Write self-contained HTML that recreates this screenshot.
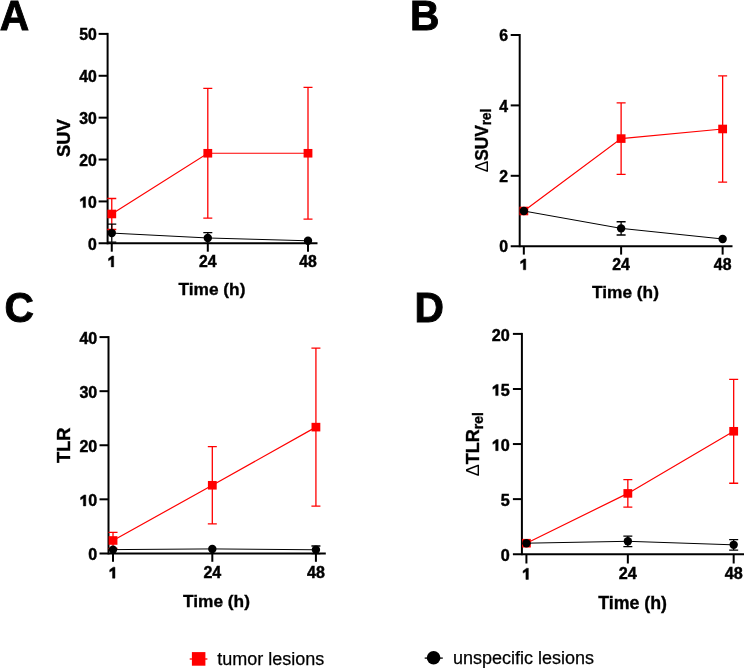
<!DOCTYPE html>
<html><head><meta charset="utf-8"><style>
html,body{margin:0;padding:0;background:#fff;width:744px;height:668px;overflow:hidden}
svg{display:block;will-change:transform}
text{font-family:"Liberation Sans",sans-serif}
.let{font-size:42px;font-weight:bold;stroke:#000;stroke-width:0.9px}
.tk{font-size:16px;font-weight:bold;stroke:#000;stroke-width:0.45px}
.ttl{font-size:17.3px;font-weight:bold;stroke:#000;stroke-width:0.35px}
.yt{font-size:18px;font-weight:bold;stroke:#000;stroke-width:0.35px}
.dl{stroke-width:0}
.dl{font-weight:normal}
.sub{font-size:13px}
.lg{font-size:18px;stroke:#000;stroke-width:0.25px}
.ax{stroke:#000;stroke-width:2;fill:none}
</style></head><body>
<svg width="744" height="668" viewBox="0 0 744 668">
<text transform="translate(-0.2,29.7) scale(0.97,1.02)" class="let">A</text>
<path d="M107.60 32.90V244.30" class="ax"/>
<path d="M98.60 243.30H317.50" class="ax"/>
<text x="96.80" y="249.50" class="tk" style="font-size:15.8px" text-anchor="end">0</text>
<path d="M98.60 201.42H107.60" class="ax"/>
<path d="M85.55 196.76 L85.55 207.62 L83.13 207.62 L83.13 200.02 L80.36 201.50 L80.36 199.32 L83.82 196.76Z" fill="#000" stroke="#000" stroke-width="0.45" stroke-linejoin="round"/>
<text x="96.80" y="207.62" class="tk" style="font-size:15.8px" text-anchor="end">0</text>
<path d="M98.60 159.54H107.60" class="ax"/>
<text x="96.80" y="165.74" class="tk" style="font-size:15.8px" text-anchor="end">20</text>
<path d="M98.60 117.66H107.60" class="ax"/>
<text x="96.80" y="123.86" class="tk" style="font-size:15.8px" text-anchor="end">30</text>
<path d="M98.60 75.78H107.60" class="ax"/>
<text x="96.80" y="81.98" class="tk" style="font-size:15.8px" text-anchor="end">40</text>
<path d="M98.60 33.90H107.60" class="ax"/>
<text x="96.80" y="40.10" class="tk" style="font-size:15.8px" text-anchor="end">50</text>
<path d="M111.77 243.30V251.70" class="ax"/>
<path d="M113.70 256.04 L113.70 266.90 L111.28 266.90 L111.28 259.30 L108.52 260.78 L108.52 258.61 L111.97 256.04Z" fill="#000" stroke="#000" stroke-width="0.45" stroke-linejoin="round"/>
<path d="M207.80 243.30V251.70" class="ax"/>
<text x="207.80" y="266.90" class="tk" style="font-size:15.8px" text-anchor="middle">24</text>
<path d="M308.00 243.30V251.70" class="ax"/>
<text x="308.00" y="266.90" class="tk" style="font-size:15.8px" text-anchor="middle">48</text>
<text x="212.0" y="294.9" class="ttl" style="font-size:17.3px" text-anchor="middle">Time (h)</text>
<text transform="translate(70.4,138.2) rotate(-90) scale(1,1)" class="yt" style="font-size:18.4px" text-anchor="middle">SUV</text>
<polyline points="111.77,213.98 207.80,153.26 308.00,153.26" fill="none" stroke="#ff0000" stroke-width="1.2"/>
<path d="M111.77 198.49V229.48M107.27 198.49H116.27M107.27 229.48H116.27" stroke="#ff0000" stroke-width="1.3" fill="none"/>
<path d="M207.80 88.34V218.17M203.30 88.34H212.30M203.30 218.17H212.30" stroke="#ff0000" stroke-width="1.3" fill="none"/>
<path d="M308.00 87.30V219.22M303.50 87.30H312.50M303.50 219.22H312.50" stroke="#ff0000" stroke-width="1.3" fill="none"/>
<rect x="107.37" y="209.68" width="8.8" height="8.6" fill="#ff0000"/>
<rect x="203.40" y="148.96" width="8.8" height="8.6" fill="#ff0000"/>
<rect x="303.60" y="148.96" width="8.8" height="8.6" fill="#ff0000"/>
<polyline points="111.77,233.08 207.80,237.98 308.00,240.79" fill="none" stroke="#000000" stroke-width="1.0"/>
<path d="M111.77 224.12V242.04M107.27 224.12H116.27M107.27 242.04H116.27" stroke="#000000" stroke-width="1.3" fill="none"/>
<path d="M207.80 232.62V243.34M203.30 232.62H212.30M203.30 243.34H212.30" stroke="#000000" stroke-width="1.3" fill="none"/>
<circle cx="111.77" cy="233.08" r="4.2" fill="#000000"/>
<circle cx="207.80" cy="237.98" r="4.2" fill="#000000"/>
<circle cx="308.00" cy="240.79" r="4.2" fill="#000000"/>
<text transform="translate(409.9,30.2) scale(0.97,1.02)" class="let">B</text>
<path d="M519.70 34.00V247.20" class="ax"/>
<path d="M510.70 246.20H732.50" class="ax"/>
<text x="508.10" y="252.40" class="tk" style="font-size:15.8px" text-anchor="end">0</text>
<path d="M510.70 175.80H519.70" class="ax"/>
<text x="508.10" y="182.00" class="tk" style="font-size:15.8px" text-anchor="end">2</text>
<path d="M510.70 105.40H519.70" class="ax"/>
<text x="508.10" y="111.60" class="tk" style="font-size:15.8px" text-anchor="end">4</text>
<path d="M510.70 35.00H519.70" class="ax"/>
<text x="508.10" y="41.20" class="tk" style="font-size:15.8px" text-anchor="end">6</text>
<path d="M523.83 246.20V254.60" class="ax"/>
<path d="M525.76 258.94 L525.76 269.80 L523.34 269.80 L523.34 262.20 L520.57 263.68 L520.57 261.50 L524.03 258.94Z" fill="#000" stroke="#000" stroke-width="0.45" stroke-linejoin="round"/>
<path d="M621.12 246.20V254.60" class="ax"/>
<text x="621.12" y="269.80" class="tk" style="font-size:15.8px" text-anchor="middle">24</text>
<path d="M722.64 246.20V254.60" class="ax"/>
<text x="722.64" y="269.80" class="tk" style="font-size:15.8px" text-anchor="middle">48</text>
<text x="625.5" y="298.2" class="ttl" style="font-size:17.3px" text-anchor="middle">Time (h)</text>
<text transform="translate(487.6,140.5) rotate(-90) scale(0.962,1)" class="yt" style="font-size:18px" text-anchor="middle"><tspan class="dl">Δ</tspan>SUV<tspan class="sub" style="font-size:14px" dy="3">rel</tspan></text>
<polyline points="523.83,211.00 621.12,138.59 722.64,128.98" fill="none" stroke="#ff0000" stroke-width="1.2"/>
<path d="M621.12 102.87V174.32M616.62 102.87H625.62M616.62 174.32H625.62" stroke="#ff0000" stroke-width="1.3" fill="none"/>
<path d="M722.64 75.83V182.14M718.14 75.83H727.14M718.14 182.14H727.14" stroke="#ff0000" stroke-width="1.3" fill="none"/>
<rect x="519.43" y="206.70" width="8.8" height="8.6" fill="#ff0000"/>
<rect x="616.72" y="134.29" width="8.8" height="8.6" fill="#ff0000"/>
<rect x="718.24" y="124.68" width="8.8" height="8.6" fill="#ff0000"/>
<polyline points="523.83,211.00 621.12,228.39 722.64,238.98" fill="none" stroke="#000000" stroke-width="1.0"/>
<path d="M621.12 221.77V235.01M616.62 221.77H625.62M616.62 235.01H625.62" stroke="#000000" stroke-width="1.3" fill="none"/>
<circle cx="523.83" cy="211.00" r="4.2" fill="#000000"/>
<circle cx="621.12" cy="228.39" r="4.2" fill="#000000"/>
<circle cx="722.64" cy="238.98" r="4.2" fill="#000000"/>
<text transform="translate(4.5,322.0) scale(0.97,1.02)" class="let">C</text>
<path d="M108.50 336.10V554.40" class="ax"/>
<path d="M99.50 553.40H325.80" class="ax"/>
<text x="97.20" y="560.00" class="tk" style="font-size:16.0px" text-anchor="end">0</text>
<path d="M99.50 499.32H108.50" class="ax"/>
<path d="M85.81 494.93 L85.81 505.93 L83.36 505.93 L83.36 498.23 L80.56 499.73 L80.56 497.53 L84.06 494.93Z" fill="#000" stroke="#000" stroke-width="0.45" stroke-linejoin="round"/>
<text x="97.20" y="505.93" class="tk" style="font-size:16.0px" text-anchor="end">0</text>
<path d="M99.50 445.25H108.50" class="ax"/>
<text x="97.20" y="451.85" class="tk" style="font-size:16.0px" text-anchor="end">20</text>
<path d="M99.50 391.18H108.50" class="ax"/>
<text x="97.20" y="397.78" class="tk" style="font-size:16.0px" text-anchor="end">30</text>
<path d="M99.50 337.10H108.50" class="ax"/>
<text x="97.20" y="343.70" class="tk" style="font-size:16.0px" text-anchor="end">40</text>
<path d="M113.02 553.40V561.80" class="ax"/>
<path d="M114.97 567.20 L114.97 578.20 L112.52 578.20 L112.52 570.50 L109.72 572.00 L109.72 569.80 L113.22 567.20Z" fill="#000" stroke="#000" stroke-width="0.45" stroke-linejoin="round"/>
<path d="M212.31 553.40V561.80" class="ax"/>
<text x="212.31" y="578.20" class="tk" style="font-size:16.0px" text-anchor="middle">24</text>
<path d="M315.92 553.40V561.80" class="ax"/>
<text x="315.92" y="578.20" class="tk" style="font-size:16.0px" text-anchor="middle">48</text>
<text x="216.5" y="607.2" class="ttl" style="font-size:17.3px" text-anchor="middle">Time (h)</text>
<text transform="translate(70.0,445.2) rotate(-90) scale(1,1)" class="yt" style="font-size:18.3px" text-anchor="middle">TLR</text>
<polyline points="113.02,540.48 212.31,485.27 315.92,427.13" fill="none" stroke="#ff0000" stroke-width="1.2"/>
<path d="M113.02 532.47V548.48M108.52 532.47H117.52M108.52 548.48H117.52" stroke="#ff0000" stroke-width="1.3" fill="none"/>
<path d="M212.31 446.60V523.93M207.81 446.60H216.81M207.81 523.93H216.81" stroke="#ff0000" stroke-width="1.3" fill="none"/>
<path d="M315.92 348.19V506.08M311.42 348.19H320.42M311.42 506.08H320.42" stroke="#ff0000" stroke-width="1.3" fill="none"/>
<rect x="108.62" y="536.18" width="8.8" height="8.6" fill="#ff0000"/>
<rect x="207.91" y="480.97" width="8.8" height="8.6" fill="#ff0000"/>
<rect x="311.52" y="422.83" width="8.8" height="8.6" fill="#ff0000"/>
<polyline points="113.02,549.61 212.31,548.91 315.92,549.78" fill="none" stroke="#000000" stroke-width="1.0"/>
<path d="M315.92 545.99V553.56M311.42 545.99H320.42M311.42 553.56H320.42" stroke="#000000" stroke-width="1.3" fill="none"/>
<circle cx="113.02" cy="549.61" r="4.2" fill="#000000"/>
<circle cx="212.31" cy="548.91" r="4.2" fill="#000000"/>
<circle cx="315.92" cy="549.78" r="4.2" fill="#000000"/>
<text transform="translate(414.5,322.0) scale(0.97,1.02)" class="let">D</text>
<path d="M521.90 332.90V555.20" class="ax"/>
<path d="M512.90 554.20H745.00" class="ax"/>
<text x="509.70" y="560.80" class="tk" style="font-size:16.2px" text-anchor="end">0</text>
<path d="M512.90 499.12H521.90" class="ax"/>
<text x="509.70" y="505.73" class="tk" style="font-size:16.2px" text-anchor="end">5</text>
<path d="M512.90 444.05H521.90" class="ax"/>
<path d="M498.16 439.51 L498.16 450.65 L495.68 450.65 L495.68 442.85 L492.85 444.37 L492.85 442.15 L496.39 439.51Z" fill="#000" stroke="#000" stroke-width="0.45" stroke-linejoin="round"/>
<text x="509.70" y="450.65" class="tk" style="font-size:16.2px" text-anchor="end">0</text>
<path d="M512.90 388.98H521.90" class="ax"/>
<path d="M498.16 384.44 L498.16 395.58 L495.68 395.58 L495.68 387.78 L492.85 389.30 L492.85 387.07 L496.39 384.44Z" fill="#000" stroke="#000" stroke-width="0.45" stroke-linejoin="round"/>
<text x="509.70" y="395.58" class="tk" style="font-size:16.2px" text-anchor="end">5</text>
<path d="M512.90 333.90H521.90" class="ax"/>
<text x="509.70" y="340.50" class="tk" style="font-size:16.2px" text-anchor="end">20</text>
<path d="M526.41 554.20V563.50" class="ax"/>
<path d="M528.38 568.26 L528.38 579.40 L525.90 579.40 L525.90 571.60 L523.07 573.12 L523.07 570.90 L526.61 568.26Z" fill="#000" stroke="#000" stroke-width="0.45" stroke-linejoin="round"/>
<path d="M627.84 554.20V563.50" class="ax"/>
<text x="627.84" y="579.40" class="tk" style="font-size:16.2px" text-anchor="middle">24</text>
<path d="M733.68 554.20V563.50" class="ax"/>
<text x="733.68" y="579.40" class="tk" style="font-size:16.2px" text-anchor="middle">48</text>
<text x="632.6" y="609.3" class="ttl" style="font-size:17.8px" text-anchor="middle">Time (h)</text>
<text transform="translate(479.0,444.1) rotate(-90) scale(1,1)" class="yt" style="font-size:18px" text-anchor="middle"><tspan class="dl">Δ</tspan>TLR<tspan class="sub" style="font-size:14px" dy="3.5">rel</tspan></text>
<polyline points="526.41,543.19 627.84,493.40 733.68,431.27" fill="none" stroke="#ff0000" stroke-width="1.2"/>
<path d="M627.84 479.57V507.22M623.34 479.57H632.34M623.34 507.22H632.34" stroke="#ff0000" stroke-width="1.3" fill="none"/>
<path d="M733.68 379.28V483.26M729.18 379.28H738.18M729.18 483.26H738.18" stroke="#ff0000" stroke-width="1.3" fill="none"/>
<rect x="522.01" y="538.89" width="8.8" height="8.6" fill="#ff0000"/>
<rect x="623.44" y="489.10" width="8.8" height="8.6" fill="#ff0000"/>
<rect x="729.28" y="426.97" width="8.8" height="8.6" fill="#ff0000"/>
<polyline points="526.41,543.19 627.84,541.31 733.68,544.84" fill="none" stroke="#000000" stroke-width="1.0"/>
<path d="M627.84 536.03V546.60M623.34 536.03H632.34M623.34 546.60H632.34" stroke="#000000" stroke-width="1.3" fill="none"/>
<path d="M733.68 539.55V550.12M729.18 539.55H738.18M729.18 550.12H738.18" stroke="#000000" stroke-width="1.3" fill="none"/>
<circle cx="526.41" cy="543.19" r="4.2" fill="#000000"/>
<circle cx="627.84" cy="541.31" r="4.2" fill="#000000"/>
<circle cx="733.68" cy="544.84" r="4.2" fill="#000000"/>
<path d="M189.7 659H207.4" stroke="#ff0000" stroke-width="1.3"/>
<rect x="191.9" y="652.1" width="13.5" height="13.6" fill="#ff0000"/>
<text x="217.3" y="664.6" class="lg">tumor lesions</text>
<path d="M424.7 658.1H442.8" stroke="#000" stroke-width="1.3"/>
<circle cx="433.6" cy="657.8" r="6.8" fill="#000"/>
<text x="452.9" y="664.4" class="lg">unspecific lesions</text>
</svg>
</body></html>
